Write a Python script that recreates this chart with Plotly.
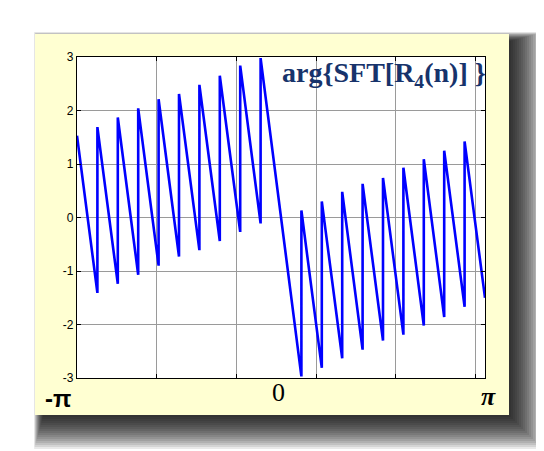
import plotly.graph_objects as go

# ---- data (frequency in units of pi, phase in radians) ----
freq_pi = [-1.0,
           -0.9, -0.9, -0.8, -0.8, -0.7, -0.7, -0.6, -0.6, -0.5, -0.5,
           -0.4, -0.4, -0.3, -0.3, -0.2, -0.2, -0.1, -0.1,
           0.1, 0.1, 0.2, 0.2, 0.3, 0.3, 0.4, 0.4, 0.5, 0.5,
           0.6, 0.6, 0.7, 0.7, 0.8, 0.8, 0.9, 0.9,
           1.0]
phase = [1.53,
         -1.41, 1.69, -1.24, 1.87, -1.07, 2.04, -0.90, 2.21, -0.73, 2.31,
         -0.61, 2.48, -0.44, 2.65, -0.27, 2.84, -0.11, 2.98,
         -2.97, 0.13, -2.81, 0.30, -2.63, 0.48, -2.47, 0.63, -2.30, 0.74,
         -2.19, 0.93, -2.02, 1.09, -1.86, 1.25, -1.67, 1.42,
         -1.50]

grid_x = [-0.609375, -0.21875, 0.171875, 0.5625, 0.953125]
y_ticks = [-3, -2, -1, 0, 1, 2, 3]
y_ticktext = ["-3", "-2", "-1", "0", "1", "2", "3"]
x_labels = ["-π", "0", "π"]
title_text = "arg{SFT[R<sub>4</sub>(n)] }"

# ---- layout geometry (page pixels; the page body has an 8px margin) ----
OFF = 8
WW, WH = 544 - OFF, 451 - OFF
PL, PR, PT, PB = 77, 485, 57, 378          # plot area in page pixels
L, R, T, B = PL - OFF, 544 - PR, PT - OFF, 451 - PB
PW, PH = PR - PL, PB - PT


def px(x):
    return (x - PL) / PW


def py(y):
    return (PB - y) / PH


fig = go.Figure()
fig.add_trace(go.Scatter(x=freq_pi, y=phase, mode="lines",
                         line=dict(color="#0000FF", width=2.6),
                         hoverinfo="skip", showlegend=False))

shapes = []
# soft shadow (dark to the lower right, faint halo at the upper left)
N = 18
for i in range(1, N + 1):
    shapes.append(dict(type="rect", xref="paper", yref="paper", layer="below",
                       x0=px(44 - i * 0.55), x1=px(507 + 2.0 * i),
                       y0=py(42 - i * 0.55), y1=py(413 + 2.0 * i),
                       line=dict(width=0), fillcolor="rgba(0,0,0,0.085)"))
# yellow panel
shapes.append(dict(type="rect", xref="paper", yref="paper", layer="below",
                   x0=px(35), x1=px(509), y0=py(34), y1=py(415),
                   line=dict(width=0), fillcolor="#FFFFD2"))
# white plot area
shapes.append(dict(type="rect", xref="paper", yref="paper", layer="below",
                   x0=0, x1=1, y0=0, y1=1,
                   line=dict(width=0), fillcolor="#FFFFFF"))

annotations = [
    dict(x=px(58), y=py(398), xref="paper", yref="paper", text="<b>" + x_labels[0] + "</b>",
         showarrow=False, font=dict(family="Liberation Sans", size=24, color="black"),
         xanchor="center", yanchor="middle"),
    dict(x=px(278), y=py(392), xref="paper", yref="paper", text=x_labels[1],
         showarrow=False, font=dict(family="Liberation Serif", size=26, color="black"),
         xanchor="center", yanchor="middle"),
    dict(x=px(488), y=py(396), xref="paper", yref="paper", text="<b><i>" + x_labels[2] + "</i></b>",
         showarrow=False, font=dict(family="Liberation Serif", size=26, color="black"),
         xanchor="center", yanchor="middle"),
    dict(x=px(280), y=py(74), xref="paper", yref="paper", text="<b>" + title_text + "</b>",
         showarrow=False, font=dict(family="Liberation Serif", size=28, color="#17336B"),
         xanchor="left", yanchor="middle"),
]

fig.update_layout(
    width=WW, height=WH,
    margin=dict(l=L, r=R, t=T, b=B),
    paper_bgcolor="white", plot_bgcolor="rgba(0,0,0,0)",
    shapes=shapes, annotations=annotations,
    xaxis=dict(range=[-1, 1], tickmode="array", tickvals=grid_x, showticklabels=False,
               ticks="inside", ticklen=4, tickcolor="black",
               showgrid=True, gridcolor="#9A9A9A", gridwidth=1,
               showline=True, linecolor="black", linewidth=1.4, mirror="ticks",
               zeroline=False, fixedrange=True),
    yaxis=dict(range=[-3, 3], tickmode="array", tickvals=y_ticks, ticktext=y_ticktext,
               ticks="inside", ticklen=4, tickcolor="black",
               tickfont=dict(family="Liberation Sans", size=12, color="black"),
               showgrid=True, gridcolor="#9A9A9A", gridwidth=1,
               showline=True, linecolor="black", linewidth=1.4, mirror="ticks",
               zeroline=False, fixedrange=True),
)

fig.write_html("out.html")
